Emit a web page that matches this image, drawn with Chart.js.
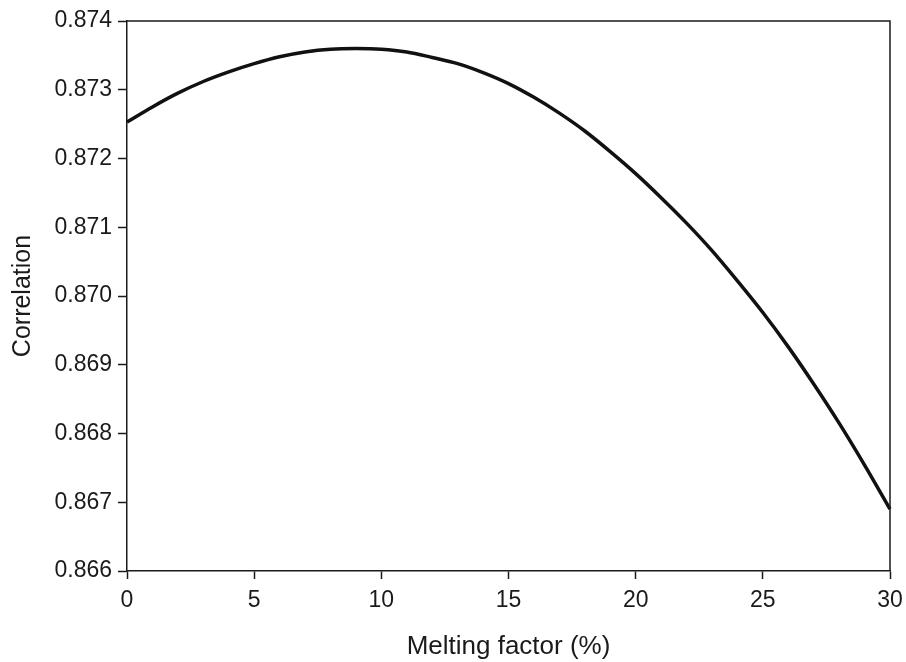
<!DOCTYPE html>
<html>
<head>
<meta charset="utf-8">
<script src="https://cdn.jsdelivr.net/npm/chart.js@4"></script>
<style>
  html, body { margin: 0; padding: 0; background: #fff; }
  #wrap { width: 906px; height: 662px; }
</style>
</head>
<body>
<div id="wrap"><canvas id="chart" width="906" height="662"></canvas></div>
<script>
// melting factor (%) and the correlation
const meltingFactor = [0, 1, 2, 3, 4, 5, 6, 7, 8, 9, 10, 11, 12, 13, 14, 15,
    16, 17, 18, 19, 20, 21, 22, 23, 24, 25, 26, 27, 28, 29, 30];
const correlation = [
    0.87253, 0.87275, 0.87295, 0.87312, 0.87326, 0.87338, 0.87348, 0.87355,
    0.87359, 0.87360, 0.87359, 0.87355, 0.87347, 0.87338, 0.87325, 0.87309,
    0.87289, 0.87266, 0.87240, 0.87210, 0.87178, 0.87143, 0.87106, 0.87066,
    0.87022, 0.86976, 0.86926, 0.86872, 0.86815, 0.86754, 0.86690
];
const xTicks = [0, 5, 10, 15, 20, 25, 30];
const yTicks = [0.866, 0.867, 0.868, 0.869, 0.870, 0.871, 0.872, 0.873, 0.874];

const ink = '#1a1a1a';
const font = 'Liberation Sans, Arial, sans-serif';

// top and right edges of the frame
const frameBox = {
    id: 'frameBox',
    afterDraw(chart) {
        const { ctx, chartArea: a } = chart;
        ctx.save();
        ctx.strokeStyle = ink;
        ctx.lineWidth = 1.5;
        ctx.beginPath();
        ctx.moveTo(a.left, a.top);
        ctx.lineTo(a.right, a.top);
        ctx.lineTo(a.right, a.bottom);
        ctx.stroke();
        ctx.restore();
    }
};

const ctx = document.getElementById('chart').getContext('2d');

new Chart(ctx, {
    type: 'line',
    data: {
        datasets: [{
            data: meltingFactor.map((x, i) => ({ x: x, y: correlation[i] })),
            borderColor: '#111',
            borderWidth: 3.5,
            pointRadius: 0,
            tension: 0.4,
            cubicInterpolationMode: 'monotone',
            fill: false,
        }]
    },
    plugins: [frameBox],
    options: {
        responsive: false,
        animation: false,
        clip: false,
        layout: { padding: { top: 21, right: 16, left: 0, bottom: 0 } },
        plugins: {
            legend: { display: false },
            tooltip: { enabled: false },
        },
        scales: {
            x: {
                type: 'linear',
                min: 0,
                max: 30,
                afterBuildTicks: (axis) => {
                    axis.ticks = xTicks.map(v => ({ value: v }));
                },
                afterFit: (axis) => {
                    axis.height = 91;
                    axis.paddingRight = 0;
                    axis.paddingLeft = 0;
                },
                border: { display: true, color: ink, width: 1.5 },
                grid: {
                    drawOnChartArea: false,
                    drawTicks: true,
                    tickLength: 8,
                    tickWidth: 1.5,
                    tickColor: ink,
                },
                ticks: {
                    color: ink,
                    padding: 8,
                    maxRotation: 0,
                    font: { family: font, size: 23 },
                },
                title: {
                    display: true,
                    text: 'Melting factor (%)',
                    color: ink,
                    padding: { top: 2, bottom: 0 },
                    font: { family: font, size: 26 },
                },
            },
            y: {
                min: 0.866,
                max: 0.874,
                afterBuildTicks: (axis) => {
                    axis.ticks = yTicks.map(v => ({ value: v }));
                },
                afterFit: (axis) => { axis.width = 127; },
                border: { display: true, color: ink, width: 1.5 },
                grid: {
                    drawOnChartArea: false,
                    drawTicks: true,
                    tickLength: 9,
                    tickWidth: 1.5,
                    tickColor: ink,
                },
                ticks: {
                    color: ink,
                    padding: 6,
                    font: { family: font, size: 23 },
                    callback: (v) => v.toFixed(3),
                },
                title: {
                    display: true,
                    text: 'Correlation',
                    color: ink,
                    padding: { top: 8, bottom: 0 },
                    font: { family: font, size: 25 },
                },
            },
        },
    },
});
</script>
</body>
</html>
